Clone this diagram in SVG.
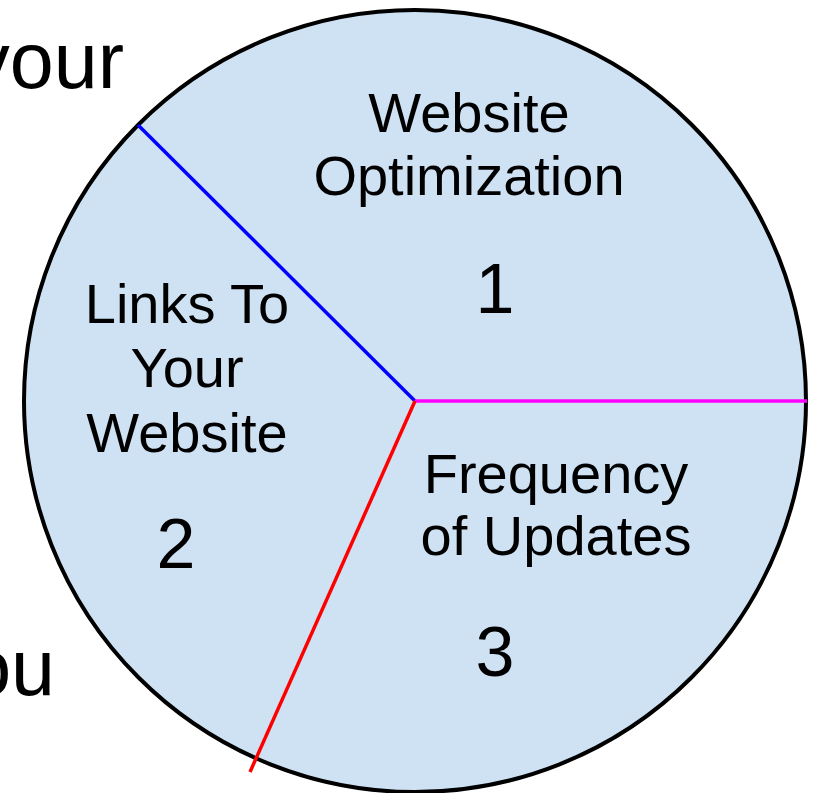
<svg xmlns="http://www.w3.org/2000/svg" width="814" height="793" viewBox="0 0 814 793">
<style>
text{font-family:"Liberation Sans",Arial,sans-serif;fill:#000}
.lbl{font-size:56px;text-anchor:middle}
.num{font-size:70px;text-anchor:middle}
.bg{font-size:79px}
.div{stroke-width:3.5;fill:none}
</style>
<rect width="814" height="793" fill="#fff"/>
<text class="bg" x="124" y="88" text-anchor="end">your</text>
<text class="bg" x="55" y="695" text-anchor="end">ou</text>
<g id="pie">
<circle cx="415" cy="401" r="391" fill="#cfe2f3" stroke="#000" stroke-width="4"/>
</g>
<g id="connectors">
<line class="div" x1="415" y1="401" x2="138" y2="125" stroke="#0000ff"/>
<line class="div" x1="415" y1="401" x2="807" y2="401" stroke="#ff00ff"/>
<line class="div" x1="415" y1="401" x2="250" y2="772" stroke="#ff0000"/>
</g>
<g id="slice1">
<text class="lbl" x="469" y="132">Website</text>
<text class="lbl" x="469" y="195">Optimization</text>
<text class="num" x="495" y="313">1</text>
</g>
<g id="slice2">
<text class="lbl" x="187" y="323">Links To</text>
<text class="lbl" x="187" y="387">Your</text>
<text class="lbl" x="187" y="452">Website</text>
<text class="num" x="176" y="568">2</text>
</g>
<g id="slice3">
<text class="lbl" x="556" y="493">Frequency</text>
<text class="lbl" x="556" y="555">of Updates</text>
<text class="num" x="495" y="676">3</text>
</g>
</svg>
